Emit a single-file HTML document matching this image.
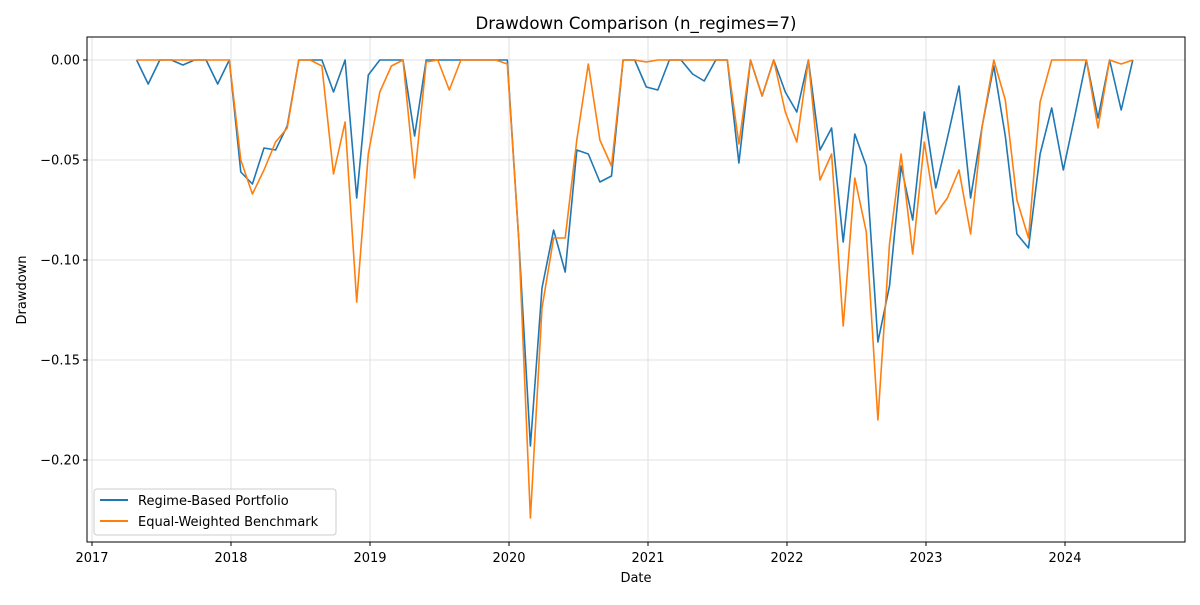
<!DOCTYPE html>
<html><head><meta charset="utf-8"><style>
body{margin:0;background:#fff;font-family:"Liberation Sans","DejaVu Sans",sans-serif}
text{font-family:"DejaVu Sans","Liberation Sans",sans-serif}
</style></head><body>
<svg id="chart" width="1200" height="600" xmlns="http://www.w3.org/2000/svg">
<rect width="1200" height="600" fill="#fff"/>
<text x="636" y="29" text-anchor="middle" font-size="16.6" fill="#000">Drawdown Comparison (n_regimes=7)</text>
<g id="grid"></g>
<g id="ticks"></g>
<g id="lines"></g>
<rect x="87" y="37" width="1098" height="505" fill="none" stroke="#000" stroke-width="1"/>
<text x="636" y="582" text-anchor="middle" font-size="13">Date</text>
<text transform="translate(26,290) rotate(-90)" text-anchor="middle" font-size="13">Drawdown</text>
<g>
<rect x="94" y="489" width="242" height="46" rx="3" fill="#fff" fill-opacity="0.8" stroke="#ccc"/>
<g><line x1="100" y1="500" x2="128" y2="500" stroke="#1f77b4" stroke-width="2"/><text x="138" y="505" font-size="13">Regime-Based Portfolio</text></g>
<g><line x1="100" y1="521" x2="128" y2="521" stroke="#ff7f0e" stroke-width="2"/><text x="138" y="526" font-size="13">Equal-Weighted Benchmark</text></g>
</g>
</svg>
<script>
const startYear = 2017, startMonth = 4;
const regimeValues = [0,-0.012,0,0,-0.0025,0,0,-0.012,0,-0.056,-0.062,-0.044,-0.045,-0.033,0,0,0,-0.016,0,-0.069,-0.0075,0,0,0,-0.038,0,0,0,0,0,0,0,0,-0.09,-0.193,-0.114,-0.085,-0.106,-0.045,-0.047,-0.061,-0.058,0,0,-0.0135,-0.015,0,0,-0.007,-0.0105,0,0,-0.0515,0,-0.018,0,-0.016,-0.026,0,-0.045,-0.034,-0.091,-0.037,-0.053,-0.141,-0.113,-0.053,-0.080,-0.026,-0.064,-0.039,-0.013,-0.069,-0.033,-0.003,-0.038,-0.087,-0.094,-0.047,-0.024,-0.055,-0.028,0,-0.029,0,-0.025,0];
const benchValues = [0,0,0,0,0,0,0,0,0,-0.05,-0.067,-0.055,-0.041,-0.034,0,0,-0.003,-0.057,-0.031,-0.121,-0.047,-0.016,-0.003,0,-0.059,-0.001,0,-0.015,0,0,0,0,-0.002,-0.09,-0.229,-0.124,-0.089,-0.089,-0.04,-0.002,-0.040,-0.053,0,0,-0.001,0,0,0,0,0,0,0,-0.042,0,-0.018,0,-0.026,-0.041,0,-0.060,-0.047,-0.133,-0.059,-0.086,-0.180,-0.092,-0.047,-0.097,-0.041,-0.077,-0.069,-0.055,-0.087,-0.033,0,-0.020,-0.070,-0.089,-0.021,0,0,0,0,-0.034,0,-0.002,0];
const xTickYears = [2017,2018,2019,2020,2021,2022,2023,2024];
const yTickValues = [0,-0.05,-0.10,-0.15,-0.20];
const yTickLabels = ["0.00","−0.05","−0.10","−0.15","−0.20"];

const NS="http://www.w3.org/2000/svg";
function xScale(yr){return 92+(yr-2017)*139;}
function yScale(v){return 60-v*2000;}
function monthPos(i){return startYear+(startMonth-0.15+i)/12;}
function mk(tag,attrs,parent){const e=document.createElementNS(NS,tag);for(const k in attrs)e.setAttribute(k,attrs[k]);parent.appendChild(e);return e;}
const grid=document.getElementById('grid'),ticks=document.getElementById('ticks'),lines=document.getElementById('lines');
xTickYears.forEach(y=>{const x=xScale(y);
 const g=mk('line',{x1:x,x2:x,y1:37,y2:542,stroke:'#e0e0e0','stroke-width':1},grid);
 
 
 mk('line',{x1:x,x2:x,y1:542,y2:546,stroke:'#000'},ticks);
 const t=mk('text',{x:x,y:562,'text-anchor':'middle','font-size':13},ticks);t.textContent=y;
 
 
});
yTickValues.forEach((v,i)=>{const y=yScale(v);
 const g=mk('line',{x1:87,x2:1185,y1:y,y2:y,stroke:'#e0e0e0','stroke-width':1},grid);
 
 
 mk('line',{x1:83,x2:87,y1:y,y2:y,stroke:'#000'},ticks);
 const t=mk('text',{x:80,y:y+4.5,'text-anchor':'end','font-size':13},ticks);t.textContent=yTickLabels[i];
 
 
});
function drawLine(vals,color,name){
 const pts=vals.map((v,i)=>xScale(monthPos(i)).toFixed(1)+','+yScale(v).toFixed(1)).join(' ');
 const p=mk('polyline',{points:pts,fill:'none',stroke:color,'stroke-width':1.6,'stroke-linejoin':'round'},lines);
 
 
}
drawLine(regimeValues,'#1f77b4','regime-line');
drawLine(benchValues,'#ff7f0e','benchmark-line');
</script>
</body></html>
